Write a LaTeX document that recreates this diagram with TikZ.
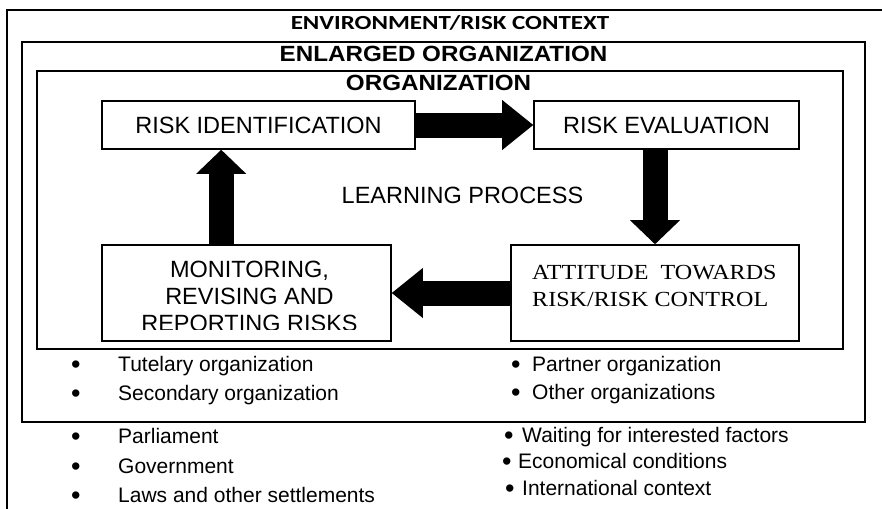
\documentclass[tikz,border=0pt]{standalone}
\usepackage{fontspec}
\setmainfont{Liberation Sans}
\newfontfamily\widesans[FakeStretch=1.1]{Liberation Sans}
\newfontfamily\timesfont[FakeStretch=1.12]{Liberation Serif}
\newfontfamily\calibrifont[FakeStretch=1.25]{Carlito}
\usetikzlibrary{arrows.meta}
\newcommand{\bulletgap}[1]{\makebox[#1pt][l]{\raisebox{-2.5pt}{\fontsize{27}{27}\selectfont\textbullet}}}

\begin{document}
\begin{tikzpicture}[x=1pt, y=-1pt,
	frame/.style={draw, line width=1.8pt, anchor=north west, inner sep=0pt},
	box/.style={draw, line width=1.6pt, inner sep=0pt, font=\fontsize{23.5}{27}\selectfont},
	title/.style={anchor=base, inner sep=0pt, font=\widesans\bfseries\fontsize{22}{26}\selectfont},
	listitem/.style={anchor=base west, inner sep=0pt, font=\fontsize{21}{25}\selectfont},
	harrow/.style={line width=25pt, -{Triangle[width=50pt, length=31pt, line width=0pt]}},
	varrow/.style={line width=25pt, -{Triangle[width=50pt, length=24pt, line width=0pt]}}]
					\useasboundingbox (0, 0) rectangle (882, 508);
					\clip (0, 0) rectangle (882, 508);
					\node[frame, minimum width=920pt, minimum height=540pt] (env)at(6, 9) {};
					\node[frame, minimum width=843pt, minimum height=380pt] (enlarged)at(21, 41) {};
					\node[frame, minimum width=806pt, minimum height=278pt] (org)at(36, 70) {};
					\node[title, font=\calibrifont\bfseries\fontsize{20}{24}\selectfont] (envtitle)at(450, 30) {ENVIRONMENT/RISK CONTEXT};
					\node[title] (enlargedtitle)at(443.5, 62) {ENLARGED ORGANIZATION};
					\node[title] (orgtitle)at(438.5, 91) {ORGANIZATION};
					\node[box, minimum width=313pt, minimum height=48pt] (riskid)at(258.5, 125) {RISK IDENTIFICATION};
					\node[box, minimum width=265pt, minimum height=48pt] (riskev)at(666.5, 125) {RISK EVALUATION};
					\node[box, minimum width=289pt, minimum height=96pt] (mon)at(246.5, 293) {};
					\node[box, minimum width=288pt, minimum height=96pt] (attitude)at(655, 293) {};
					\node[anchor=base, inner sep=0pt, font=\fontsize{23.5}{27}\selectfont] (learning)at(462.5, 203) {LEARNING PROCESS};
					\begin{scope}
						\clip ([yshift=12pt]mon.south west) rectangle (mon.north east);
						\node[anchor=north, align=center, inner sep=0pt, font=\fontsize{23.5}{27}\selectfont] (montext)at(249.5, 261) {MONITORING,\\REVISING AND\\REPORTING RISKS};
					\end{scope}
					\node[anchor=north west, align=left, inner sep=0pt, font=\timesfont\fontsize{21.5}{27}\selectfont] (attitudetext)at(532, 265) {ATTITUDE~ TOWARDS\\RISK/RISK CONTROL};
					\draw[harrow] (riskid.east) -- (riskev.west);
					\draw[varrow] (riskev.south -| attitude.north) -- (attitude.north);
					\draw[harrow] (attitude.west) -- (mon.east);
					\draw[varrow] ([xshift=120pt]mon.north west) -- ([xshift=120pt]riskid.south west);
					\node[listitem] (tutelary)at(71, 371) {\bulletgap{47}Tutelary organization};
					\node[listitem] (secondary)at(71, 400) {\bulletgap{47}Secondary organization};
					\node[listitem] (partner)at(511, 371) {\bulletgap{21}Partner organization};
					\node[listitem] (other)at(511, 399) {\bulletgap{21}Other organizations};
					\node[listitem] (parliament)at(71, 443) {\bulletgap{47}Parliament};
					\node[listitem] (government)at(71, 473) {\bulletgap{47}Government};
					\node[listitem] (laws)at(71, 502) {\bulletgap{47}Laws and other settlements};
					\node[listitem] (waiting)at(504, 442) {\bulletgap{18}Waiting for interested factors};
					\node[listitem] (economical)at(502, 468) {\bulletgap{16}Economical conditions};
					\node[listitem] (international)at(505, 495) {\bulletgap{17}International context};
				\end{tikzpicture}
\end{document}
